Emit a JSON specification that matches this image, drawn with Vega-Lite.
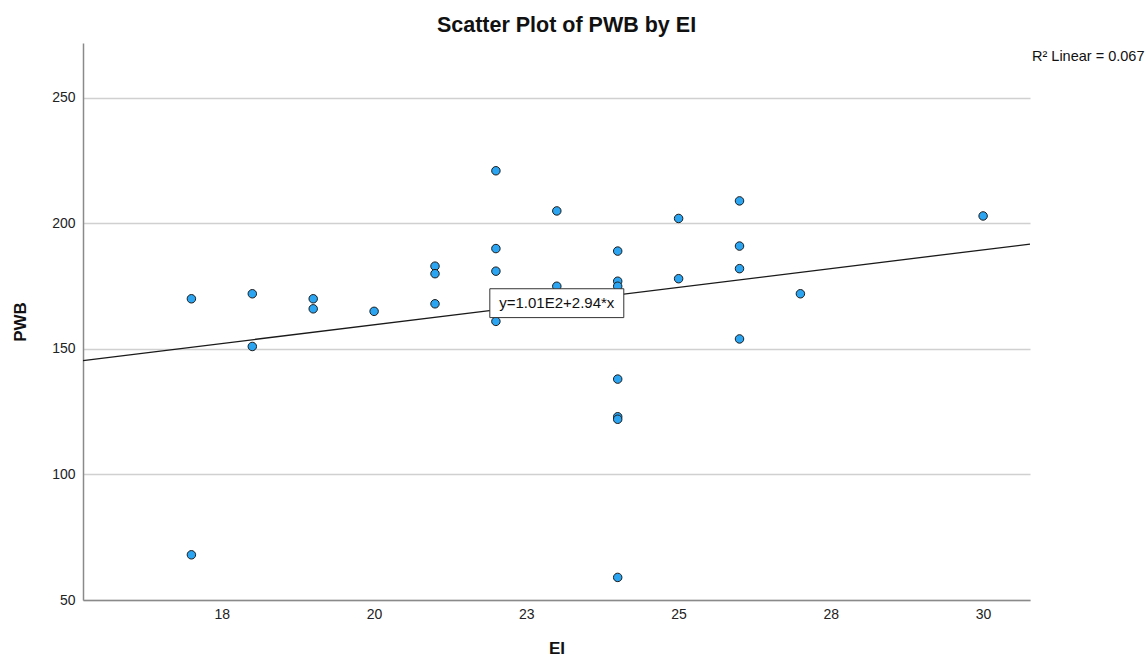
{
  "$schema": "https://vega.github.io/schema/vega-lite/v6.json",
  "width": 947,
  "height": 557,
  "autosize": {"type": "none"},
  "padding": {"left": 83, "top": 43, "right": 118, "bottom": 66},
  "background": "white",
  "config": {
    "font": "Liberation Sans",
    "view": {"stroke": null},
    "title": {"font": "Liberation Sans", "fontSize": 21.5, "fontWeight": "bold", "color": "#111", "anchor": "middle", "baseline": "alphabetic", "offset": 7, "dx": 10}
  },
  "title": "Scatter Plot of PWB by EI",
  "datasets": {
    "points": [
      {"EI": 17, "PWB": 170}, {"EI": 17, "PWB": 68},
      {"EI": 18, "PWB": 172}, {"EI": 18, "PWB": 151},
      {"EI": 19, "PWB": 170}, {"EI": 19, "PWB": 166},
      {"EI": 20, "PWB": 165},
      {"EI": 21, "PWB": 183}, {"EI": 21, "PWB": 180}, {"EI": 21, "PWB": 168},
      {"EI": 22, "PWB": 221}, {"EI": 22, "PWB": 190}, {"EI": 22, "PWB": 181}, {"EI": 22, "PWB": 161},
      {"EI": 23, "PWB": 205}, {"EI": 23, "PWB": 175},
      {"EI": 24, "PWB": 189}, {"EI": 24, "PWB": 177}, {"EI": 24, "PWB": 175}, {"EI": 24, "PWB": 138}, {"EI": 24, "PWB": 123}, {"EI": 24, "PWB": 122}, {"EI": 24, "PWB": 59},
      {"EI": 25, "PWB": 202}, {"EI": 25, "PWB": 178},
      {"EI": 26, "PWB": 209}, {"EI": 26, "PWB": 191}, {"EI": 26, "PWB": 182}, {"EI": 26, "PWB": 154},
      {"EI": 27, "PWB": 172},
      {"EI": 30, "PWB": 203}
    ],
    "eqbox": [{"x1": 21.9, "x2": 24.1, "y1": 162.5, "y2": 174}],
    "eqlabel": [{"EI": 23, "PWB": 168.3, "text": "y=1.01E2+2.94*x"}],
    "r2": [{"EI": 30.77, "PWB": 266.3, "text": "R² Linear = 0.067"}]
  },
  "layer": [
    {
      "data": {"name": "points"},
      "mark": {"type": "circle", "size": 72, "fill": "#2ba5f2", "stroke": "#1c1c1c", "strokeWidth": 1, "opacity": 1},
      "encoding": {
        "x": {
          "field": "EI", "type": "quantitative",
          "scale": {"domain": [15.22, 30.77], "nice": false, "zero": false},
          "axis": {
            "title": "EI", "values": [17.5, 20, 22.5, 25, 27.5, 30], "labelExpr": "round(datum.value)",
            "grid": false, "ticks": false, "domainColor": "#8a8a8a", "domainWidth": 1.5,
            "labelFontSize": 14, "labelColor": "#222", "labelPadding": 7,
            "titleFontSize": 17, "titleFontWeight": "bold", "titleColor": "#111", "titlePadding": 19
          }
        },
        "y": {
          "field": "PWB", "type": "quantitative",
          "scale": {"domain": [50, 271.9], "nice": false, "zero": false},
          "axis": {
            "title": "PWB", "values": [50, 100, 150, 200, 250],
            "grid": true, "gridColor": "#d0d0d0", "gridWidth": 1.5,
            "ticks": false, "domainColor": "#8a8a8a", "domainWidth": 1.5,
            "labelFontSize": 14, "labelColor": "#222", "labelPadding": 8,
            "titleFontSize": 17, "titleFontWeight": "bold", "titleColor": "#111", "titlePadding": 22
          }
        }
      }
    },
    {
      "data": {"name": "points"},
      "transform": [{"regression": "PWB", "on": "EI", "extent": [15.22, 30.77]}],
      "mark": {"type": "line", "color": "#1a1a1a", "strokeWidth": 1.3},
      "encoding": {
        "x": {"field": "EI", "type": "quantitative"},
        "y": {"field": "PWB", "type": "quantitative"}
      }
    },
    {
      "data": {"name": "eqbox"},
      "mark": {"type": "rect", "fill": "white", "stroke": "#333", "strokeWidth": 1},
      "encoding": {
        "x": {"field": "x1", "type": "quantitative"},
        "x2": {"field": "x2"},
        "y": {"field": "y1", "type": "quantitative"},
        "y2": {"field": "y2"}
      }
    },
    {
      "data": {"name": "eqlabel"},
      "mark": {"type": "text", "fontSize": 15, "color": "#111", "align": "center", "baseline": "middle"},
      "encoding": {
        "x": {"field": "EI", "type": "quantitative"},
        "y": {"field": "PWB", "type": "quantitative"},
        "text": {"field": "text"}
      }
    },
    {
      "data": {"name": "r2"},
      "mark": {"type": "text", "fontSize": 14.5, "color": "#111", "align": "left", "baseline": "middle", "dx": 2},
      "encoding": {
        "x": {"field": "EI", "type": "quantitative"},
        "y": {"field": "PWB", "type": "quantitative"},
        "text": {"field": "text"}
      }
    }
  ]
}
